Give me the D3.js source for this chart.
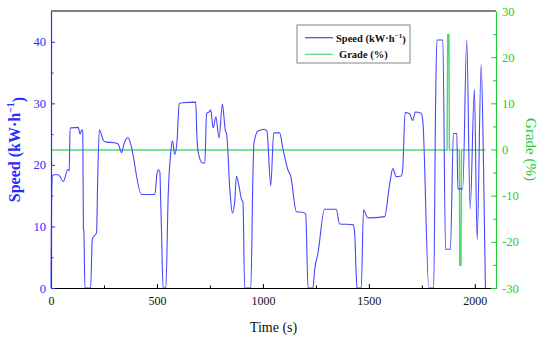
<!DOCTYPE html>
<html>
<head>
<meta charset="utf-8">
<script src="https://cdn.jsdelivr.net/npm/d3@7"></script>
<style>
  body { margin: 0; background: #fff; }
  svg { display: block; }
  svg text { font-family: "Liberation Serif", "Times New Roman", serif; }
</style>
</head>
<body>
<div class="main"></div>
<script>
// Speed trace
const speedTime = [0, 3, 6, 12, 35, 58, 80, 86, 90, 129, 137, 145, 150, 153, 155, 160, 187, 195, 215, 220,
  228, 247, 260, 300, 317, 333, 345, 364, 375, 427, 490, 500, 506, 514, 517, 521, 529, 542, 553, 565,
  573, 584, 595, 605, 620, 683, 688, 694, 715, 726, 734, 746, 754, 765, 778, 793, 809, 817, 823, 828,
  845, 856, 867, 875, 887, 899, 906, 914, 943, 953, 958, 977, 1008, 1019, 1037, 1051, 1079, 1095, 1118, 1131,
  1158, 1186, 1202, 1213, 1236, 1244, 1260, 1291, 1346, 1362, 1425, 1433, 1440, 1444, 1464, 1475, 1495, 1574, 1598, 1613,
  1629, 1653, 1660, 1671, 1692, 1707, 1719, 1747, 1755, 1783, 1806, 1815, 1821, 1849, 1862, 1885, 1899, 1915, 1920, 1943,
  1962, 1978, 1998, 2011, 2030, 2041, 2050]
const speedValues = [0, 15, 18.2, 18.4, 18.4, 17.3, 19.3, 19.0, 26, 26.1, 25, 25.7, 25.4, 9.5, 9.3, 0, 0, 8, 9, 17,
  25.7, 24, 23.7, 23.6, 23.4, 22.0, 23.5, 24.4, 23.5, 15.2, 15.2, 18.5, 19.2, 18.8, 15, 10, 0, 0, 15, 22,
  23.9, 21.7, 24, 29.9, 30.1, 30.2, 25, 22.2, 20.3, 20.3, 28.3, 28.6, 28.9, 26, 27.8, 24.4, 29.9, 27.5, 25.5, 25.2,
  15.5, 12.2, 14, 18.2, 16.6, 14.4, 14, 0, 0, 18.4, 23.6, 25.5, 25.8, 25.5, 16.6, 25.2, 25.2, 22.5, 19.2, 18.2,
  12.4, 12.3, 12, 0, 0, 2.9, 5.7, 12.8, 12.8, 10.4, 10.3, 9, 2.4, 0, 0, 12.7, 11.4, 11.6, 16.8, 19.4,
  18.1, 18.2, 19.5, 28.5, 28.3, 27.2, 28.6, 28.4, 27, 0, 0, 30, 40.3, 40.3, 6.3, 6.3, 25.1, 25.1, 16.1, 16.1,
  40.3, 12.8, 32.3, 7.9, 36.3, 20.1, 0]

// Grade trace
const gradeTime = [0, 1869, 1872, 1878, 1880, 1927, 1929, 1935, 1937, 2050]
const gradeValues = [0, 0, 25, 25, 0, 0, -25, -25, 0, 0]

const xTicks = [0, 500, 1000, 1500, 2000]
const xMinor = [250, 750, 1250, 1750]
const speedTicks = [0, 10, 20, 30, 40]
const speedMinor = [5, 15, 25, 35]
const gradeTicks = [-30, -20, -10, 0, 10, 20, 30]
const gradeMinor = [-25, -15, -5, 5, 15, 25]

const width = 550
const height = 340
const margin = ({top: 11, right: 54, bottom: 52, left: 51})
const blue = '#4646ff'
const axisBlue = '#2a2aff'
const green = '#50d870'
const axisGreen = '#22cc33'

const speed = speedTime.map((t, i) => ({t: t, v: speedValues[i]}))
const grade = gradeTime.map((t, i) => ({t: t, v: gradeValues[i]}))

const xScale = d3.scaleLinear()
  .domain([0, 2100])
  .range([margin.left, width - margin.right])
const ySpeed = d3.scaleLinear()
  .domain([0, 45])
  .range([height - margin.bottom, margin.top])
const yGrade = d3.scaleLinear()
  .domain([-30, 30])
  .range([height - margin.bottom, margin.top])

const svg = d3.select('.main').append('svg')
  .attr('width', width)
  .attr('height', height)

const bottom = height - margin.bottom
const right = width - margin.right

// top frame line
svg.append('line')
  .attr('x1', margin.left).attr('x2', right)
  .attr('y1', margin.top).attr('y2', margin.top)
  .attr('stroke', '#000')
  .attr('stroke-width', 1.2)

// lines
svg.append('path')
  .datum(grade)
  .attr('fill', 'none')
  .attr('stroke', green)
  .attr('stroke-width', 1.4)
  .attr('d', d3.line().x(d => xScale(d.t)).y(d => yGrade(d.v) + 0.5))

svg.append('path')
  .datum(speed)
  .attr('fill', 'none')
  .attr('stroke', blue)
  .attr('stroke-width', 1.1)
  .attr('stroke-linejoin', 'round')
  .attr('d', d3.line().x(d => xScale(d.t)).y(d => ySpeed(d.v)).curve(d3.curveMonotoneX))

// x axis
const xAxis = svg.append('g')
  .attr('transform', `translate(0, ${bottom})`)
  .call(d3.axisBottom(xScale).tickValues(xTicks).tickSize(-4).tickSizeOuter(0).tickPadding(8)
    .tickFormat(d => String(d)))
svg.append('g')
  .attr('transform', `translate(0, ${bottom})`)
  .call(d3.axisBottom(xScale).tickValues(xMinor).tickSize(-2.5).tickSizeOuter(0).tickFormat(''))
  .call(g => g.select('.domain').remove())
xAxis.select('.domain').attr('stroke', '#000').attr('stroke-width', 1.2)
xAxis.selectAll('text').attr('font-size', 12).attr('fill', '#111')

// left axis
const yAxisL = svg.append('g')
  .attr('transform', `translate(${margin.left}, 0)`)
  .call(d3.axisLeft(ySpeed).tickValues(speedTicks).tickSize(-4).tickSizeOuter(0).tickPadding(5))
svg.append('g')
  .attr('transform', `translate(${margin.left}, 0)`)
  .call(d3.axisLeft(ySpeed).tickValues(speedMinor).tickSize(-2.5).tickFormat(''))
  .call(g => g.select('.domain').remove())
  .selectAll('line').attr('stroke', axisBlue)
yAxisL.select('.domain').attr('stroke', axisBlue).attr('stroke-width', 1.2)
yAxisL.selectAll('line').attr('stroke', axisBlue)
yAxisL.selectAll('text').attr('font-size', 12.5).attr('fill', axisBlue)

// right axis
const yAxisR = svg.append('g')
  .attr('transform', `translate(${right}, 0)`)
  .call(d3.axisRight(yGrade).tickValues(gradeTicks).tickSize(-5).tickSizeOuter(0).tickPadding(6)
    .tickFormat(d => String(d)))
svg.append('g')
  .attr('transform', `translate(${right}, 0)`)
  .call(d3.axisRight(yGrade).tickValues(gradeMinor).tickSize(-3).tickFormat(''))
  .call(g => g.select('.domain').remove())
  .selectAll('line').attr('stroke', axisGreen)
yAxisR.select('.domain').attr('stroke', axisGreen).attr('stroke-width', 1.2)
yAxisR.selectAll('line').attr('stroke', axisGreen)
yAxisR.selectAll('text').attr('font-size', 12.5).attr('fill', axisGreen)

// axis titles
svg.append('text')
  .text('Time (s)')
  .attr('x', (margin.left + right) / 2)
  .attr('y', 332)
  .attr('text-anchor', 'middle')
  .attr('font-size', 14)
  .attr('fill', '#111')

const leftTitle = svg.append('text')
  .attr('transform', `translate(20, ${(margin.top + bottom) / 2}) rotate(-90)`)
  .attr('text-anchor', 'middle')
  .attr('font-size', 16)
  .attr('font-weight', 'bold')
  .attr('fill', axisBlue)
leftTitle.append('tspan').text('Speed (kW·h')
leftTitle.append('tspan').text('−1').attr('font-size', 10).attr('dy', '-0.6em')
leftTitle.append('tspan').text(')').attr('dy', '0.6em')

svg.append('text')
  .text('Grade (%)')
  .attr('transform', `translate(526, ${(margin.top + bottom) / 2}) rotate(90)`)
  .attr('text-anchor', 'middle')
  .attr('font-size', 15)
  .attr('fill', axisGreen)

// legend
const legend = svg.append('g').attr('transform', 'translate(297, 25)')
legend.append('rect')
  .attr('width', 113)
  .attr('height', 38)
  .attr('fill', '#fff')
  .attr('stroke', '#666')
  .attr('stroke-width', 0.8)

const legendItems = [
  {color: blue, y: 12.7},
  {color: green, y: 29.3}
]
legend.selectAll('line')
  .data(legendItems)
  .join('line')
    .attr('x1', 8).attr('x2', 36)
    .attr('y1', d => d.y).attr('y2', d => d.y)
    .attr('stroke', d => d.color)
    .attr('stroke-width', 1.2)

const t1 = legend.append('text')
  .attr('x', 39).attr('y', 16.5)
  .attr('font-size', 10.5).attr('font-weight', 'bold').attr('fill', '#111')
t1.append('tspan').text('Speed (kW·h')
t1.append('tspan').text('−1').attr('font-size', 7).attr('dy', '-0.5em')
t1.append('tspan').text(')').attr('dy', '0.5em')

legend.append('text')
  .text('Grade (%)')
  .attr('x', 42).attr('y', 33)
  .attr('font-size', 10.5).attr('font-weight', 'bold').attr('fill', '#111')
</script>
</body>
</html>
